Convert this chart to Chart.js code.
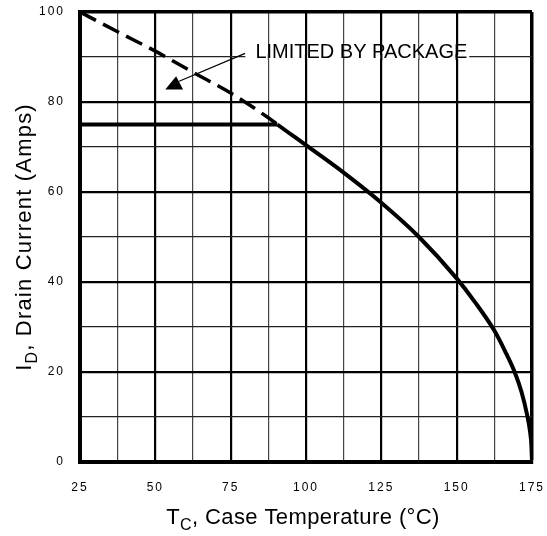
<!DOCTYPE html>
<html>
<head>
<meta charset="utf-8">
<script src="https://cdn.jsdelivr.net/npm/chart.js@4.4.1/dist/chart.umd.min.js"></script>
<style>
  html, body { margin: 0; padding: 0; background: #fff; }
  #wrap { width: 547px; height: 536px; }
</style>
</head>
<body>
<div id="wrap"><canvas id="derating"></canvas></div>
<script>
// case temperature (°C) and max drain current (A)
const caseTemp = [25, 37.5, 50, 62.5, 75, 87.5, 90.5, 100, 112.5, 125, 137.5, 150, 156, 162.5, 166, 169.3, 171.5, 173.4, 174.3, 174.8, 175];
const drainAmps = [100, 95.6, 91.3, 86.6, 82, 76.5, 75, 70.4, 64.3, 57.6, 50, 40.8, 35.6, 29.2, 24.7, 19.9, 15.6, 10.4, 7, 3.7, 0];
// package limit
const pkgTemp = [25, 90.5];
const pkgAmps = [75, 75];
const xLabels = [25, 50, 75, 100, 125, 150, 175];
const yLabels = [0, 20, 40, 60, 80, 100];
const pkgEnd = 90.5;

const FONT = '"Liberation Sans", Arial, Helvetica, sans-serif';

function pts(xs, ys) {
  return xs.map((v, i) => ({ x: v, y: ys[i] }));
}

const overlay = {
  id: 'overlay',
  beforeDraw(chart) {
    chart.ctx.letterSpacing = '2px';
  },
  afterDatasetsDraw(chart) {
    const { ctx, scales: { x, y } } = chart;
    const label = 'LIMITED BY PACKAGE';
    ctx.save();
    ctx.letterSpacing = '0px';
    ctx.font = '20px ' + FONT;
    const tx = x.getPixelForValue(83.2), ty = y.getPixelForValue(89.7);
    const w = ctx.measureText(label).width;
    // white band hides the 90 A grid line behind the label
    const gy = y.getPixelForValue(90);
    ctx.fillStyle = '#fff';
    ctx.fillRect(tx - 10, gy - 2, w + 12, 4);
    x.ticks.forEach(t => {
      const px = x.getPixelForValue(t.value);
      if (px > tx - 10 && px < tx + w + 2) {
        ctx.lineWidth = t.value % 25 === 0 ? 2.2 : 1.2;
        ctx.strokeStyle = t.value % 25 === 0 ? '#000' : '#444';
        ctx.beginPath();
        ctx.moveTo(px, gy - 3);
        ctx.lineTo(px, gy + 3);
        ctx.stroke();
      }
    });
    ctx.fillStyle = '#000';
    ctx.textBaseline = 'alphabetic';
    ctx.textAlign = 'left';
    ctx.fillText(label, tx, ty);

    // leader + arrow head
    ctx.strokeStyle = '#000';
    ctx.lineWidth = 1.2;
    ctx.beginPath();
    ctx.moveTo(x.getPixelForValue(79.8), y.getPixelForValue(90.8));
    ctx.lineTo(x.getPixelForValue(57.9), y.getPixelForValue(84.6));
    ctx.stroke();
    ctx.beginPath();
    ctx.moveTo(x.getPixelForValue(53.3), y.getPixelForValue(82.8));
    ctx.lineTo(x.getPixelForValue(59.2), y.getPixelForValue(82.8));
    ctx.lineTo(x.getPixelForValue(56.9), y.getPixelForValue(85.7));
    ctx.closePath();
    ctx.fill();
    ctx.restore();
  },
  afterDraw(chart) {
    const { ctx, chartArea: a } = chart;
    ctx.save();
    ctx.fillStyle = '#000';
    ctx.textBaseline = 'alphabetic';
    ctx.textAlign = 'left';

    // x title: T_C, Case Temperature (°C)
    ctx.letterSpacing = '0.4px';
    const big = '22px ' + FONT, small = '16px ' + FONT;
    ctx.font = big;
    const wT = ctx.measureText('T').width;
    const rest = ', Case Temperature (°C)';
    const wR = ctx.measureText(rest).width;
    ctx.font = small;
    const wC = ctx.measureText('C').width;
    let sx = (a.left + a.right) / 2 - (wT + wC + wR) / 2 - 3;
    const by = 524;
    ctx.font = big; ctx.fillText('T', sx, by); sx += wT;
    ctx.font = small; ctx.fillText('C', sx, by + 6); sx += wC;
    ctx.font = big; ctx.fillText(rest, sx, by);

    // y title: I_D, Drain Current (Amps)
    ctx.letterSpacing = '1.2px';
    ctx.translate(31, (a.top + a.bottom) / 2);
    ctx.rotate(-Math.PI / 2);
    ctx.font = big;
    const wI = ctx.measureText('I').width;
    const rest2 = ', Drain Current (Amps)';
    const wR2 = ctx.measureText(rest2).width;
    ctx.font = small;
    const wD = ctx.measureText('D').width;
    let sy = -(wI + wD + wR2) / 2;
    ctx.font = big; ctx.fillText('I', sy, 0); sy += wI;
    ctx.font = small; ctx.fillText('D', sy, 6); sy += wD;
    ctx.font = big; ctx.fillText(rest2, sy, 0);
    ctx.restore();
  }
};

new Chart(document.getElementById('derating'), {
  type: 'line',
  data: {
    datasets: [{
      label: 'ID',
      data: pts(caseTemp, drainAmps),
      borderColor: '#000',
      borderWidth: 4,
      pointRadius: 0,
      cubicInterpolationMode: 'monotone',
      segment: {
        borderDash: ctx => ctx.p0.parsed.x < pkgEnd ? [18, 8] : undefined,
        borderWidth: ctx => ctx.p0.parsed.x < pkgEnd ? 3.5 : 4
      }
    }, {
      label: 'package',
      data: pts(pkgTemp, pkgAmps),
      borderColor: '#000',
      borderWidth: 4,
      pointRadius: 0
    }]
  },
  options: {
    responsive: true,
    maintainAspectRatio: false,
    animation: false,
    events: [],
    layout: { padding: { top: 12, right: 15, bottom: 0, left: 0 } },
    plugins: { legend: { display: false }, tooltip: { enabled: false } },
    scales: {
      x: {
        type: 'linear',
        min: 25, max: 175,
        afterFit: s => { s.height = 74; s.paddingLeft = 0; s.paddingRight = 0; },
        border: { color: '#000', width: 4 },
        grid: {
          drawTicks: false,
          color: c => (c.tick.value % 25 === 0 ? '#000' : '#444'),
          lineWidth: c => c.tick.value === 175 ? 3.5 : (c.tick.value % 25 === 0 ? 2.2 : 1.2)
        },
        ticks: {
          stepSize: 12.5,
          autoSkip: false,
          maxRotation: 0,
          padding: 18,
          color: '#000',
          font: { family: FONT, size: 12 },
          callback: v => xLabels.includes(v) ? String(v) : ''
        }
      },
      y: {
        min: 0, max: 100,
        afterFit: s => { s.width = 80; s.paddingTop = 0; s.paddingBottom = 0; },
        border: { color: '#000', width: 4 },
        grid: {
          drawTicks: false,
          color: c => (c.tick.value % 20 === 0 ? '#000' : '#222'),
          lineWidth: c => c.tick.value === 100 ? 3.5 : (c.tick.value % 20 === 0 ? 2.2 : 1.2)
        },
        ticks: {
          stepSize: 10,
          padding: 15,
          color: '#000',
          font: { family: FONT, size: 12 },
          callback: v => yLabels.includes(v) ? String(v) : ''
        }
      }
    }
  },
  plugins: [overlay]
});
</script>
</body>
</html>
